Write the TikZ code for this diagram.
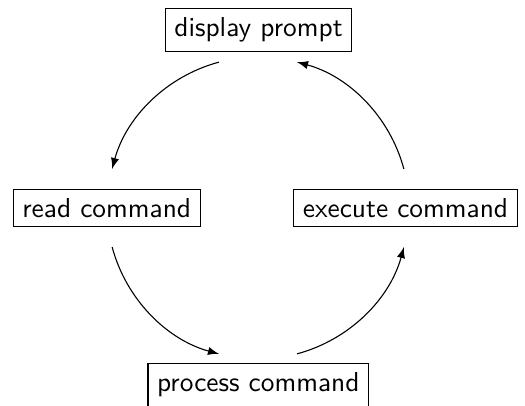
\documentclass[tikz,border=0pt]{standalone}
\begin{document}
\begin{tikzpicture}[x=0.3652pt,y=0.3652pt,
  stage/.style={draw,font=\sffamily},
  flowarc/.style={-latex}]
\useasboundingbox (0,0) rectangle (525,406);
% centre of the cycle
\coordinate (c) at (258,198);
% the four stages
\node[stage] (disp) at (258.5,376) {display prompt};
\node[stage] (read) at (106.7,198) {read command};
\node[stage] (exec) at (405.5,198) {execute command};
\node[stage] (proc) at (258.3,21) {process command};
% arcs of the loop, anticlockwise around the centre
\draw[flowarc] (c) ++(15:151) arc[start angle=15,end angle=75,radius=151];
\draw[flowarc] (c) ++(105:151) arc[start angle=105,end angle=165,radius=151];
\draw[flowarc] (c) ++(195:151) arc[start angle=195,end angle=255,radius=151];
\draw[flowarc] (c) ++(285:151) arc[start angle=285,end angle=345,radius=151];
\end{tikzpicture}
\end{document}
